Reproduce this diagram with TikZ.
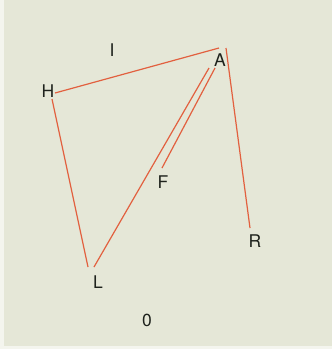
\documentclass[tikz,border=0pt]{standalone}
\usepackage{fontspec}
\setmainfont{TeX Gyre Heros}
\usepackage{xcolor}
\definecolor{paper}{HTML}{E5E7D7}
\definecolor{rim}{HTML}{F4F5EE}
\definecolor{redline}{HTML}{E2603F}
\definecolor{ink}{HTML}{1E221C}

\begin{document}
\begin{tikzpicture}[x=1pt, y=-1pt,
  lbl/.style={text=ink, font=\fontsize{17.5}{20}\selectfont, inner sep=0pt},
  seg/.style={redline, line width=1.2pt}]
  % Paper with its thin light rim
  \fill[rim] (0,0) rectangle (332,349);
  \fill[paper] (4,0) rectangle (332,346);
  \useasboundingbox (0,0) rectangle (332,349);
  % Letters
  \node[lbl] (I) at (112,50)  {I};
  \node[lbl] (A) at (220,60)  {A};
  \node[lbl] (H) at (48,91)   {H};
  \node[lbl] (F) at (163,182) {F};
  \node[lbl] (R) at (255,241) {R};
  \node[lbl] (L) at (98,282)  {L};
  \node[lbl] (O) at (147,320) {0};
  % Line ends, each sitting beside its letter
  \coordinate (Hr) at (55,93);
  \coordinate (Hb) at (52,99);
  \coordinate (Al) at (219,48);
  \coordinate (Ar) at (226,48);
  \coordinate (Ab) at (209,68);
  \coordinate (Ac) at (215,68);
  \coordinate (Ft) at (162,168);
  \coordinate (Rt) at (250,228);
  \coordinate (Ll) at (88,267);
  \coordinate (Lr) at (94,267);
  % Red strokes
  \draw[seg] (Hr) -- (Al);
  \draw[seg] (Ar) -- (Rt);
  \draw[seg] (Hb) -- (Ll);
  \draw[seg] (Lr) -- (Ab);
  \draw[seg] (Ft) -- (Ac);
\end{tikzpicture}
\end{document}
